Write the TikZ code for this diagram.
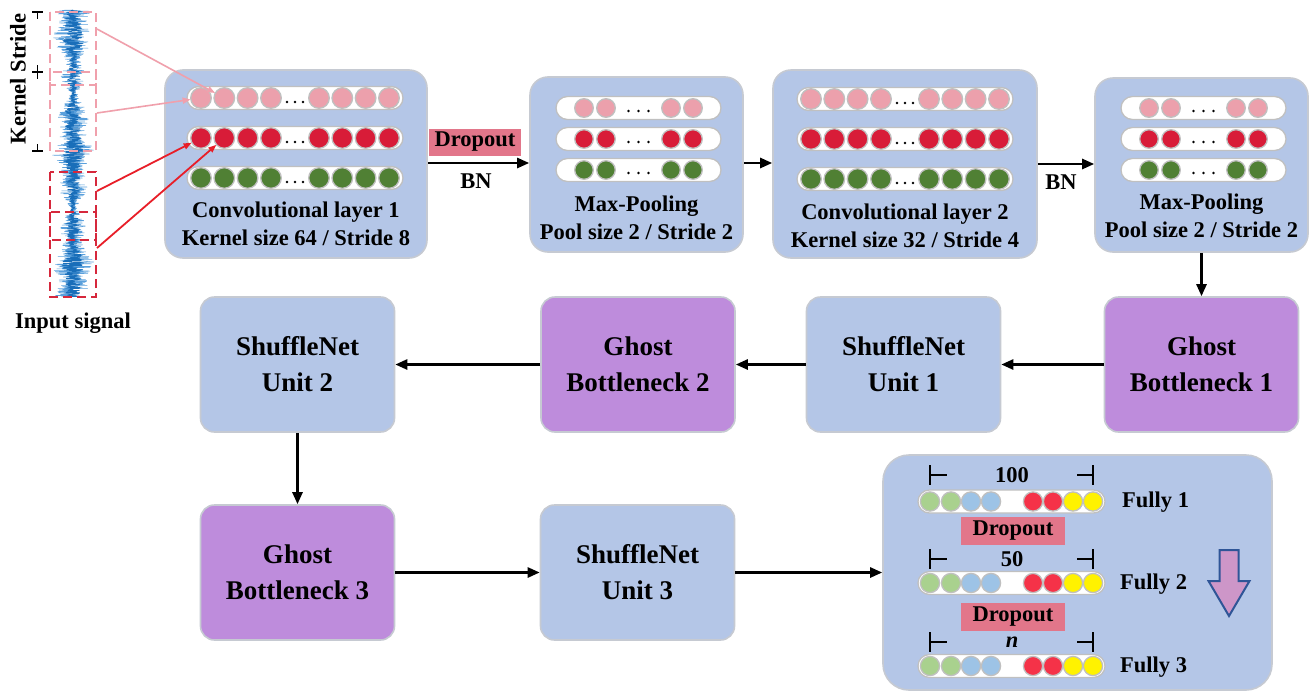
\documentclass[tikz,border=0pt]{standalone}
\usepackage{fontspec}
\setmainfont{Liberation Serif}
\usetikzlibrary{arrows.meta,calc}

\definecolor{boxblue}{RGB}{180,198,231}
\definecolor{boxedge}{RGB}{198,202,210}
\definecolor{ghost}{RGB}{190,140,220}
\definecolor{pinkc}{RGB}{236,160,172}
\definecolor{redc}{RGB}{216,28,56}
\definecolor{greenc}{RGB}{80,128,52}
\definecolor{ringgray}{RGB}{192,192,192}
\definecolor{dropfill}{RGB}{226,118,138}
\definecolor{fgreen}{RGB}{169,209,142}
\definecolor{fblue}{RGB}{157,195,230}
\definecolor{fred}{RGB}{245,50,72}
\definecolor{fyellow}{RGB}{255,242,0}
\definecolor{sigblue}{RGB}{25,110,185}
\definecolor{siglight}{RGB}{90,160,220}
\definecolor{winpink}{RGB}{240,160,172}
\definecolor{winred}{RGB}{214,40,60}
\definecolor{arrowred}{RGB}{232,30,40}
\definecolor{navy}{RGB}{47,85,151}
\definecolor{mauve}{RGB}{205,150,200}

\newcommand\captext{\fontsize{22.5}{28}\selectfont\bfseries}
\newcommand\bigtext{\fontsize{27}{36}\selectfont\bfseries}

% envelope of the vibration signal
\pgfmathdeclarefunction{sigenv}{1}{\pgfmathparse{13+5*sin(2.9*#1+20)+3.5*sin(9.7*#1+60)}}

% white pill holding a row of neurons
\newcommand\pill[3]{\draw[ringgray, line width=1.3pt, fill=white, rounded corners=11.5pt] (#1,#3-11.5) rectangle (#2,#3+11.5);}
% one neuron: x, y, radius, colour
\newcommand\bead[4]{\filldraw[draw=ringgray, line width=1.3pt, fill=#4] (#1,#2) circle[radius=#3];}

% three rows of a convolutional layer, #1 = left end of the pills
\newcommand\convrows[1]{%
  \foreach \yy/\cc in {98/pinkc,138/redc,178/greenc}{%
    \pill{#1}{#1+216}{\yy}
    \foreach \o in {14,37.3,60.6,84,132,155.3,178.6,202}{\bead{#1+\o}{\yy}{10.3}{\cc}}
    \foreach \o in {100,108,116}{\fill (#1+\o,\yy+4) circle[radius=1.4];}
  }}
% three rows of a pooling layer
\newcommand\poolrows[1]{%
  \foreach \yy/\cc in {108/pinkc,139/redc,170/greenc}{%
    \pill{#1}{#1+165}{\yy}
    \foreach \o in {28,50,115,137}{\bead{#1+\o}{\yy}{9.3}{\cc}}
    \foreach \o in {72.5,82.5,92.5}{\fill (#1+\o,\yy+3) circle[radius=1.4];}
  }}
% one fully connected row
\newcommand\fcrow[1]{%
  \pill{918}{1105}{#1}
  \foreach \o/\cc in {12/fgreen,33/fgreen,53/fblue,73/fblue,115/fred,135/fred,155/fyellow,175/fyellow}{\bead{918+\o}{#1}{9.6}{\cc}}
}
% width bar above a fully connected row
\newcommand\widthbar[3]{%
  \draw[line width=1.8pt] (930,#1-10) -- (930,#1+10) (930,#1) -- (947,#1)
        (1093,#1-10) -- (1093,#1+10) (1093,#1) -- (1077,#1);
  \node[font=\captext] (#2) at (1012,#1) {#3};
}

\tikzset{
  panel/.style={draw=boxedge, line width=1.6pt, fill=boxblue, rounded corners=18pt, inner sep=0pt},
  unitbox/.style={panel, rounded corners=14pt, minimum width=194pt, minimum height=135pt, font=\bigtext, align=center},
  ghostbox/.style={unitbox, fill=ghost},
  boxtext/.style={font=\captext, align=center, inner sep=0pt},
  dropbox/.style={fill=dropfill, font=\captext, inner sep=0pt},
  flow/.style={line width=2.5pt, -{Triangle[length=12pt,width=10pt]}},
  pinkarrow/.style={winpink, line width=1.6pt, -{Triangle[length=8pt,width=6pt]}, shorten >=10.5pt},
  redarrow/.style={arrowred, line width=1.8pt, -{Triangle[length=8pt,width=6pt]}, shorten >=10.5pt},
  window/.style={line width=2pt, dash pattern=on 9pt off 5pt},
}

\begin{document}
\begin{tikzpicture}[x=1pt, y=-1pt]
\useasboundingbox (0,0) rectangle (1312,691);
\fill[white] (0,0) rectangle (1312,691);

% ---------- input signal ----------
\pgfmathsetseed{42}
\draw[siglight, line width=0.5pt, line join=round]
  (73,10) \foreach \t in {10.3,10.6,...,297}{ -- ({73+sigenv(\t)*rand},\t) };
\draw[sigblue, line width=0.6pt, line join=round]
  (73,10) \foreach \t in {10.3,10.6,...,297}{ -- ({73+0.55*sigenv(\t)*rand},\t) };

\draw[window, winpink] (50,12) rectangle (96,85);
\draw[window, winpink] (50,72) rectangle (96,151);
\draw[window, winred] (50,172) rectangle (96,240);
\draw[window, winred] (50,212) rectangle (96,297);

% kernel / stride marks
\draw[line width=1.6pt] (32,12) -- (43,12) (37.5,12) -- (37.5,19)
  (32,72) -- (43,72) (37.5,65) -- (37.5,79)
  (32,151) -- (43,151) (37.5,144) -- (37.5,151);
\node[boxtext, rotate=90] (ks) at (18,79) {Kernel Stride};
\node[boxtext] (insig) at (73,323) {Input signal};

% ---------- first row ----------
\node[panel, minimum width=262pt, minimum height=188pt] (conv1) at (296,164) {};
\node[panel, minimum width=213pt, minimum height=175pt] (mp1) at (636.5,164.5) {};
\node[panel, minimum width=264pt, minimum height=188pt] (conv2) at (905,164) {};
\node[panel, minimum width=213pt, minimum height=174pt] (mp2) at (1201.5,165) {};

\convrows{187}
\poolrows{556}
\begin{scope}[yshift=-1pt]\convrows{797}\end{scope}
\poolrows{1121}

\node[boxtext] (conv1t) at (296,224) {Convolutional layer 1\\Kernel size 64 / Stride 8};
\node[boxtext] (mp1t) at (636.5,218) {Max-Pooling\\Pool size 2 / Stride 2};
\node[boxtext] (conv2t) at (905,226) {Convolutional layer 2\\Kernel size 32 / Stride 4};
\node[boxtext] (mp2t) at (1201.5,216) {Max-Pooling\\Pool size 2 / Stride 2};

% signal windows feeding the first layer
\coordinate (w1) at (97,29);
\coordinate (w2) at (97,113);
\coordinate (w3) at (97,191);
\coordinate (w4) at (97,248);
\coordinate (c11) at (201,98);
\coordinate (c12) at (224.3,98);
\coordinate (c21) at (201,138);
\coordinate (c22) at (224.3,138);
\draw[pinkarrow] (w1) -- (c12);
\draw[pinkarrow] (w2) -- (c11);
\draw[redarrow] (w3) -- (c21);
\draw[redarrow] (w4) -- (c22);

\draw[flow] (conv1.east |- 0,163) -- (mp1.west |- 0,163);
\node[dropbox, minimum width=92pt, minimum height=27pt] (drop0) at (475,142) {Dropout};
\node[boxtext] (bn1) at (476,181) {BN};
\draw[flow] (mp1.east |- 0,163) -- (conv2.west |- 0,163);
\draw[flow] (conv2.east |- 0,164) -- (mp2.west |- 0,164);
\node[boxtext] (bn2) at (1061,182) {BN};

% ---------- second row ----------
\node[ghostbox] (gb1) at (1201.5,364.5) {Ghost\\Bottleneck 1};
\node[unitbox] (su1) at (903.5,364.5) {ShuffleNet\\Unit 1};
\node[ghostbox] (gb2) at (638,364.5) {Ghost\\Bottleneck 2};
\node[unitbox] (su2) at (297.5,364.5) {ShuffleNet\\Unit 2};

\draw[flow] (mp2.south) -- (gb1.north);
\draw[flow] (gb1.west) -- (su1.east);
\draw[flow] (su1.west) -- (gb2.east);
\draw[flow] (gb2.west) -- (su2.east);

% ---------- third row ----------
\node[ghostbox] (gb3) at (297.5,572.5) {Ghost\\Bottleneck 3};
\node[unitbox] (su3) at (637.5,572.5) {ShuffleNet\\Unit 3};
\node[panel, rounded corners=26pt, minimum width=389pt, minimum height=235pt] (fc) at (1077.5,572.5) {};

\draw[flow] (su2.south) -- (gb3.north);
\draw[flow] (gb3.east) -- (su3.west);
\draw[flow] (su3.east) -- (fc.west);

% fully connected layers
\widthbar{475}{w100}{100}
\fcrow{501.5}
\node[dropbox, minimum width=104pt, minimum height=28pt] (drop1) at (1013,531) {Dropout};
\widthbar{559}{w50}{50}
\fcrow{583}
\node[dropbox, minimum width=104pt, minimum height=28pt] (drop2) at (1013,616.5) {Dropout};
\widthbar{642}{wn}{\textit{n}}
\fcrow{666}

\node[boxtext, anchor=west] (fully1) at (1122,502) {Fully 1};
\node[boxtext, anchor=west] (fully2) at (1120,584) {Fully 2};
\node[boxtext, anchor=west] (fully3) at (1120,667) {Fully 3};

% direction of the fully connected stack
\filldraw[draw=navy, fill=mauve, line width=2pt, line join=miter]
  (1219.5,550) -- (1238.5,550) -- (1238.5,581) -- (1249.5,581) -- (1229,616)
  -- (1208.5,581) -- (1219.5,581) -- cycle;
\end{tikzpicture}
\end{document}
